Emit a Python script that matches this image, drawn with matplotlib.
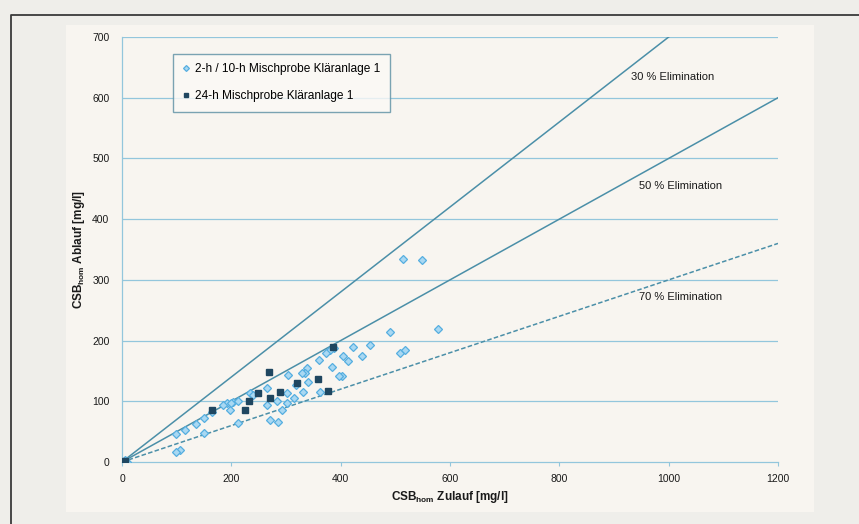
import matplotlib
matplotlib.use("Agg")
import matplotlib.pyplot as plt
from matplotlib.patches import Rectangle
from matplotlib.lines import Line2D
import numpy as np

plt.rcParams['font.family'] = ['Liberation Sans', 'DejaVu Sans']

# Data
x_2h = [514, 549, 490, 578, 508, 517, 453, 439, 423, 404, 414, 388, 380, 360, 384, 373,
        338, 403, 397, 335, 340, 331, 362, 315, 304, 329, 265, 265, 302, 302, 234, 203,
        192, 185, 198, 271, 285, 293, 240, 213, 200, 165, 150, 135, 115, 98, 107, 98,
        150, 213, 10, 5, 318, 283]
y_2h = [334, 333, 214, 219, 180, 185, 193, 175, 189, 175, 166, 188, 185, 168, 157, 180,
        155, 141, 141, 146, 132, 115, 115, 105, 143, 147, 122, 94, 114, 97, 113, 99,
        97, 94, 86, 69, 66, 86, 110, 100, 98, 83, 72, 63, 52, 46, 19, 16,
        48, 64, 0, 3, 127, 100]
x_24h = [269, 249, 289, 320, 271, 232, 225, 164, 359, 377, 386, 5]
y_24h = [148, 113, 116, 130, 105, 100, 86, 86, 137, 117, 190, 1]

elim_labels = ["30 % Elimination", "50 % Elimination", "70 % Elimination"]
elim_slopes = [0.7, 0.5, 0.3]
xticks = [0, 200, 400, 600, 800, 1000, 1200]
yticks = [0, 100, 200, 300, 400, 500, 600, 700]

W, H = 859, 524
fig = plt.figure(figsize=(W / 100, H / 100), dpi=100)
fig.patch.set_facecolor('#efeeea')

# inner panel
fig.add_artist(Rectangle((66 / W, 1 - 512 / H), (814 - 66) / W, (512 - 25) / H,
                         transform=fig.transFigure, facecolor='#f8f5f0',
                         edgecolor='none', zorder=0))
# outer border (clipped box)
fig.add_artist(Line2D([11 / W, 11 / W, 1.0], [0.0, 1 - 15 / H, 1 - 15 / H],
                      transform=fig.transFigure, color='#3a3a3a', lw=1.3))

ax = fig.add_axes([122 / W, 1 - 462 / H, (778 - 122) / W, (462 - 37) / H])
ax.set_facecolor('none')
ax.set_xlim(0, 1200)
ax.set_ylim(0, 700)

grid_c = '#93c6dc'
for yv in yticks[1:]:
    ax.axhline(yv, color=grid_c, lw=0.9, zorder=1)
for s in ['top', 'right']:
    ax.spines[s].set_visible(False)
for s in ['left', 'bottom']:
    ax.spines[s].set_color(grid_c)
    ax.spines[s].set_linewidth(0.9)

ax.set_xticks(xticks)
ax.set_yticks(yticks)
ax.tick_params(axis='x', length=3, color=grid_c, labelsize=7.5, pad=6, labelcolor='#1a1a1a')
ax.tick_params(axis='y', length=0, labelsize=7.5, pad=9, labelcolor='#1a1a1a')

line_c = '#4b8fa8'
xx = np.array([0, 1200])
styles = ['-', '-', (0, (3, 1.5))]
for sl, st in zip(elim_slopes, styles):
    ax.plot(xx, sl * xx, color=line_c, lw=1.1, ls=st, zorder=2, clip_on=True)

label_pos = [(932, 634), (945, 455), (945, 272)]
for (lx, ly), t in zip(label_pos, elim_labels):
    ax.text(lx, ly, t, fontsize=8, color='#1a1a1a', va='center', ha='left')

ax.plot(x_2h, y_2h, ls='none', marker='D', ms=4, mfc='#a9d8f2', mec='#55aee0',
        mew=0.9, zorder=3, label='2-h / 10-h Mischprobe Kläranlage 1')
ax.plot(x_24h, y_24h, ls='none', marker='s', ms=4.5, mfc='#1f4660', mec='#1f4660',
        zorder=4, label='24-h Mischprobe Kläranlage 1')

leg = ax.legend(loc='upper left', bbox_to_anchor=(0.068, 0.975), fontsize=8.6,
                frameon=True, fancybox=False, labelspacing=1.25, handlelength=0.6,
                handletextpad=0.5, borderpad=0.8, markerscale=0.75)
leg.get_frame().set_edgecolor('#5b8ea3')
leg.get_frame().set_linewidth(1.0)
leg.get_frame().set_facecolor('#fbf9f6')

ax.set_xlabel('CSB$_{\\mathregular{hom}}$ Zulauf [mg/l]', fontsize=8.5, fontweight='bold',
              color='#1a1a1a', labelpad=3)
ax.set_ylabel('CSB$_{\\mathregular{hom}}$ Ablauf [mg/l]', fontsize=8.5, fontweight='bold',
              color='#1a1a1a', labelpad=4)

fig.savefig('out.png', dpi=100, facecolor=fig.get_facecolor())
